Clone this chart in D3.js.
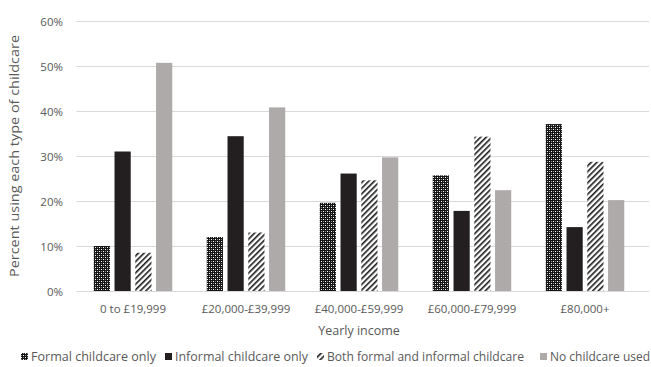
<!DOCTYPE html>
<html><head><meta charset="utf-8">
<script src="https://cdn.jsdelivr.net/npm/d3@7"></script>
<style>body{margin:0;background:#fff}svg{display:block}text{font-family:"Open Sans",sans-serif;fill:#595959}</style>
</head><body><svg id="c" width="651" height="367"></svg>
<script>
const categories = ["0 to £19,999","£20,000-£39,999","£40,000-£59,999","£60,000-£79,999","£80,000+"];
const seriesNames = ["Formal childcare only","Informal childcare only","Both formal and informal childcare","No childcare used"];
const formalOnly   = [10.0, 12.0, 19.6, 25.7, 37.1];
const informalOnly = [31.0, 34.4, 26.1, 17.8, 14.2];
const bothTypes    = [8.5, 13.0, 24.6, 34.3, 28.7];
const noChildcare  = [50.7, 40.8, 29.7, 22.4, 20.2];
const yTicks = [0,10,20,30,40,50,60];
const series = [formalOnly, informalOnly, bothTypes, noChildcare];

(function(){
const svg = d3.select("#c");
const defs = svg.append("defs");
const pc = defs.append("pattern").attr("id","pCheck").attr("patternUnits","userSpaceOnUse").attr("width",4).attr("height",4);
pc.append("rect").attr("width",4).attr("height",4).attr("fill","#151515");
pc.append("rect").attr("x",1).attr("y",1).attr("width",1).attr("height",1).attr("fill","#fff");
pc.append("rect").attr("x",3).attr("y",3).attr("width",1).attr("height",1).attr("fill","#fff");
pc.append("rect").attr("x",3).attr("y",1).attr("width",1).attr("height",1).attr("fill","#888");
pc.append("rect").attr("x",1).attr("y",3).attr("width",1).attr("height",1).attr("fill","#888");
const pd = defs.append("pattern").attr("id","pDiag").attr("patternUnits","userSpaceOnUse").attr("width",4).attr("height",4).attr("patternTransform","rotate(45)");
pd.append("rect").attr("width",4).attr("height",4).attr("fill","#fff");
pd.append("rect").attr("width",1.6).attr("height",4).attr("fill","#1a1a1a");

const fills = ["url(#pCheck)","#231f20","url(#pDiag)","#aeaaaa"];

const mL = 76.5, mR = 641.5, mT = 21, mB = 291;
const x0 = d3.scaleBand().domain(categories).range([mL,mR]).paddingInner(0.265).paddingOuter(0.1325);
const x1 = d3.scaleBand().domain(d3.range(4)).range([0,x0.bandwidth()]).paddingInner(0.22).paddingOuter(0.11);
const y = d3.scaleLinear().domain([0,60]).range([mB,mT]);

svg.append("g").selectAll("line").data(yTicks).join("line")
  .attr("x1",mL).attr("x2",649).attr("y1",d=>y(d)+0.5).attr("y2",d=>y(d)+0.5)
  .attr("stroke","#d9d9d9").attr("stroke-width",1);

const yAxis = d3.axisLeft(y).tickValues(yTicks).tickFormat(d=>d+"%").tickSize(0).tickPadding(0);
const ga = svg.append("g").attr("transform",`translate(63,0)`).call(yAxis);
ga.select(".domain").remove();
ga.selectAll("text").style("font-size","11.5px").attr("fill","#595959").attr("dy","0.35em");

const g = svg.append("g");
categories.forEach((c,ci)=>{
  series.forEach((s,si)=>{
    g.append("rect").attr("x",x0(c)+x1(si)).attr("y",y(s[ci])).attr("width",x1.bandwidth())
      .attr("height",y(0)-y(s[ci])).attr("fill",fills[si]);
  });
});

const xAxis = d3.axisBottom(x0).tickSize(0).tickPadding(0);
const gx = svg.append("g").attr("transform",`translate(0,${mB+18})`).call(xAxis);
gx.select(".domain").remove();
gx.selectAll("text").style("font-size","11.5px").attr("fill","#595959").attr("dy","0.35em").attr("y",0);

svg.append("text").attr("x",359).attr("y",331).attr("dy","0.35em").attr("text-anchor","middle").style("font-size","12.5px").text("Yearly income");
svg.append("text").attr("transform","translate(15,156) rotate(-90)").attr("dy","0.35em").attr("text-anchor","middle").style("font-size","12.5px")
  .attr("textLength",242).attr("lengthAdjust","spacingAndGlyphs").text("Percent using each type of childcare");

const legX = [21,165,317,540];
const legW = [125,133,197,100];
const lg = svg.append("g");
seriesNames.forEach((n,i)=>{
  lg.append("rect").attr("x",legX[i]).attr("y",353).attr("width",7).attr("height",7).attr("fill",fills[i]);
  lg.append("text").attr("x",legX[i]+10).attr("y",357).attr("dy","0.35em").style("font-size","12px")
    .attr("textLength",legW[i]).attr("lengthAdjust","spacingAndGlyphs").text(n);
});
})();
</script></body></html>
